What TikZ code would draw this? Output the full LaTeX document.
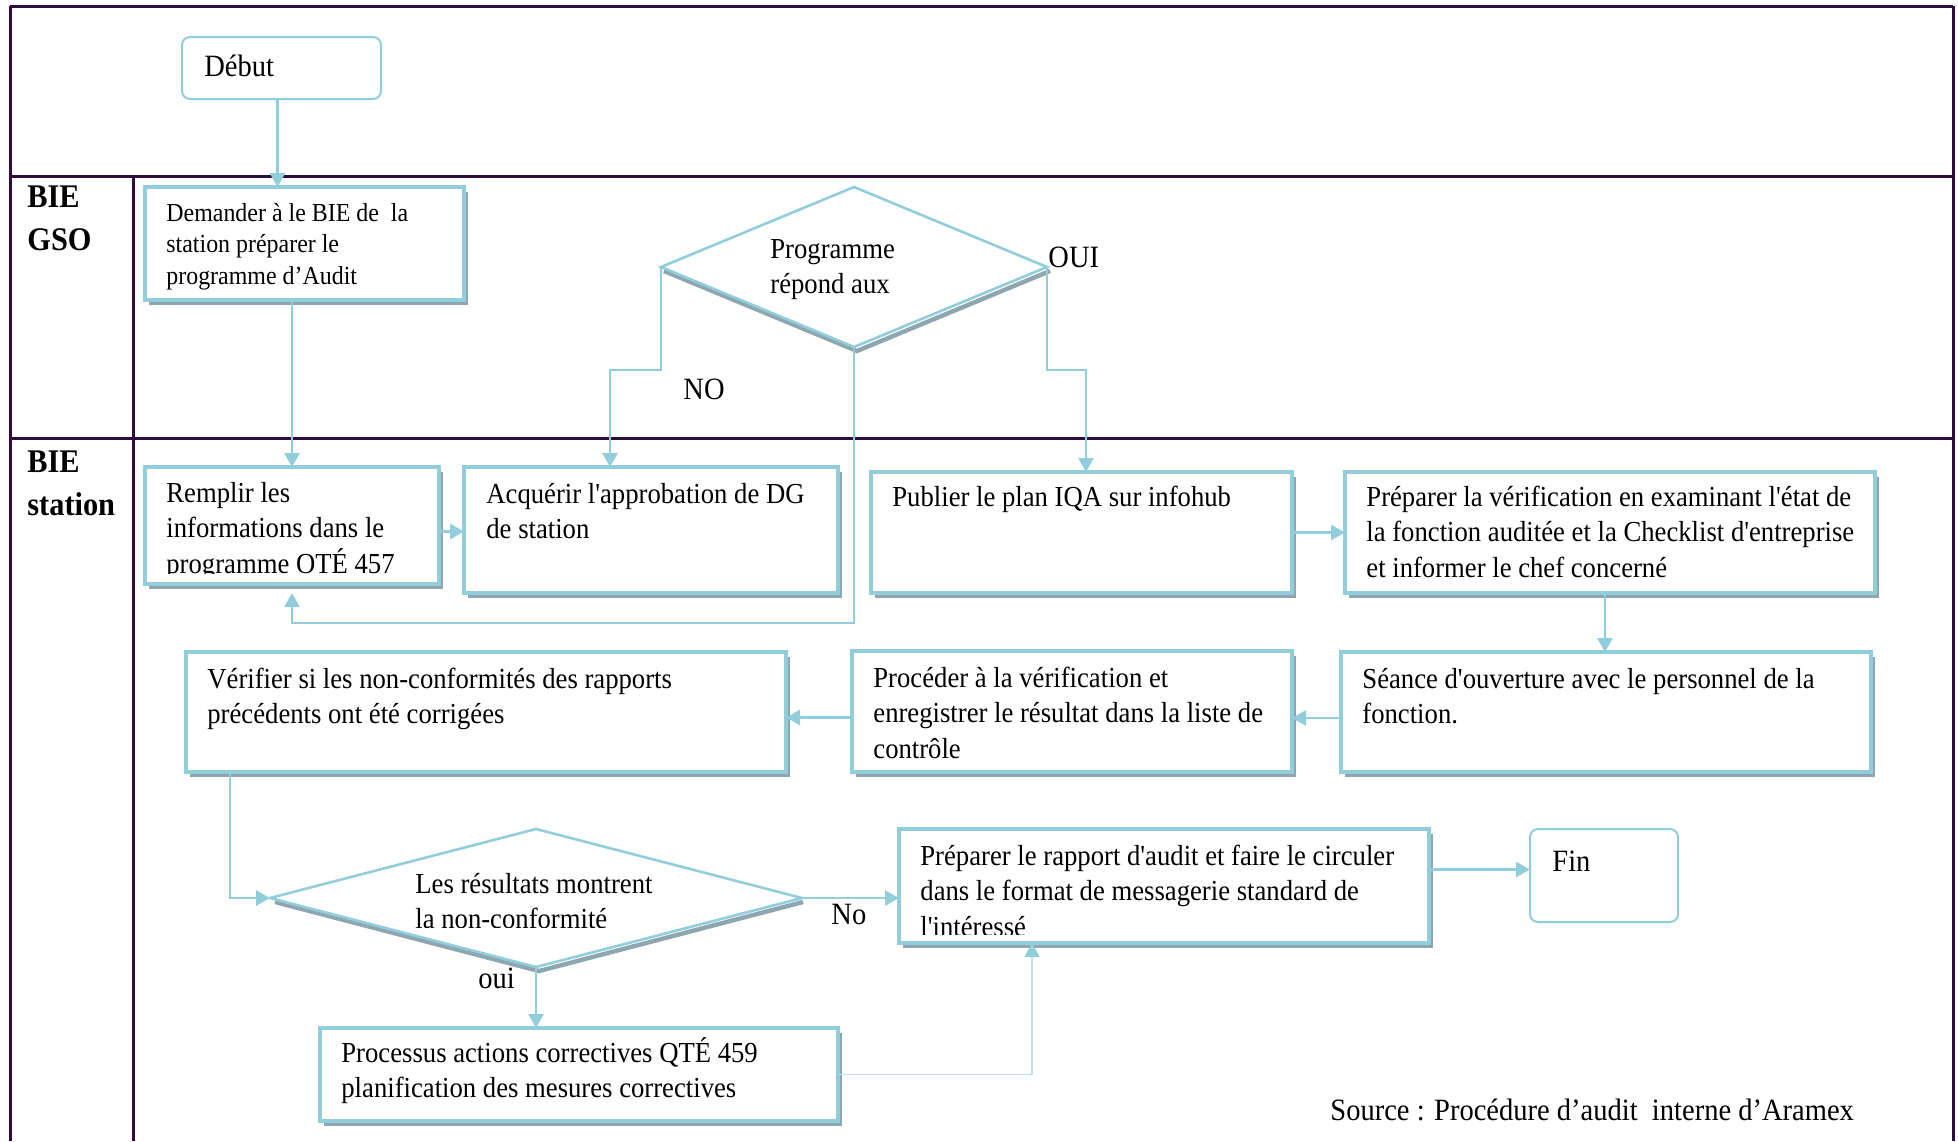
\documentclass[tikz,border=0pt]{standalone}
\usepackage{fontspec}
\setmainfont{Liberation Serif}[FakeStretch=0.92,Ligatures=TeXOff]
\usetikzlibrary{arrows.meta,shapes.geometric,shadows}
\definecolor{flowblue}{RGB}{146,205,220}
\definecolor{flowlight}{RGB}{190,225,235}
\definecolor{boxshade}{RGB}{142,166,176}
\definecolor{lanefr}{RGB}{48,10,60}
\newcommand\bodyfont{\fontsize{14.5}{17.75}\selectfont}
\newcommand\bigfont{\fontsize{15.5}{18}\selectfont}
\newcommand\smallfont{\fontsize{13}{15.75}\selectfont}
\newcommand\lanefont{\fontsize{16.5}{21.5}\selectfont\bfseries}
\begin{document}
\begin{tikzpicture}[x=0.5pt,y=-0.5pt,
  frame/.style={draw=lanefr,line width=1.5pt},
  box/.style={draw=flowblue,line width=1.6pt,fill=white,inner sep=0,outer sep=0,anchor=north west,
    drop shadow={shadow xshift=2pt,shadow yshift=-2.5pt,fill=boxshade,opacity=1}},
  term/.style={draw=flowblue,line width=1pt,rounded corners=4pt,fill=white,inner sep=0,outer sep=0,anchor=north west},
  decision/.style={diamond,draw=flowblue,line width=1.3pt,fill=white,inner sep=0,outer sep=0},
  dshade/.style={draw=boxshade,line width=2.2pt},
  conn/.style={draw=flowblue,line width=1.45pt,-{Triangle[width=7.5pt,length=7pt]}},
  connthin/.style={draw=flowlight,line width=0.8pt,-{Triangle[width=7.5pt,length=7pt,color=flowblue]}},
  % multi-line texts are placed by the baseline of their last line
  txt/.style={inner sep=0,anchor=base west,align=left,font=\bodyfont},
  lane/.style={inner sep=0,anchor=base west,align=left,font=\lanefont}
]
\useasboundingbox (0,0) rectangle (1958,1141);

% swimlane frame
\draw[frame] (10,6) -- (1953,6);
\draw[frame] (10,6) -- (10,1141);
\draw[frame] (1953,6) -- (1953,1141);
\draw[frame] (10,176) -- (1953,176);
\draw[frame] (10,438) -- (1953,438);
\draw[frame] (133,176) -- (133,1141);

\node[lane] (gso) at (27,250) {BIE\\GSO};
\node[lane] (stn) at (27,515) {BIE\\station};

% process boxes
\node[term, minimum width=99.5pt, minimum height=31pt] (debut) at (182,37) {};
\node[box, minimum width=159.5pt, minimum height=56.5pt] (demander) at (145,187) {};
\node[box, minimum width=147pt, minimum height=58.5pt] (remplir) at (145,467) {};
\node[box, minimum width=187pt, minimum height=63pt] (acquerir) at (464,467) {};
\node[box, minimum width=210.5pt, minimum height=60.5pt] (publier) at (871,472) {};
\node[box, minimum width=265pt, minimum height=60.5pt] (prepa) at (1345,472) {};
\node[box, minimum width=265pt, minimum height=60pt] (seance) at (1341,652) {};
\node[box, minimum width=220pt, minimum height=60.5pt] (proceder) at (852,651) {};
\node[box, minimum width=300pt, minimum height=60pt] (verifier) at (186,652) {};
\node[box, minimum width=265pt, minimum height=57pt] (rapport) at (899,829) {};
\node[term, minimum width=74pt, minimum height=46.5pt] (fin) at (1530,829) {};
\node[box, minimum width=259pt, minimum height=46.5pt] (processus) at (320,1028) {};

% decisions with their shadow under the lower edges
\draw[dshade] (664,271) -- (857,351) -- (1050,271);
\node[decision, minimum width=193pt, minimum height=80pt] (d1) at (854,267) {};
\draw[dshade] (275,902) -- (539,971) -- (803,902);
\node[decision, minimum width=266pt, minimum height=69pt] (d2) at (536,898) {};

% connectors
\coordinate (db) at ([xshift=-2pt]debut.south);
\draw[conn] (db) -- (db |- demander.north);
\draw[conn] (remplir.north |- demander.south) -- (remplir.north);
\coordinate (ra) at ([yshift=-3pt]remplir.east);
\draw[conn] (ra) -- (ra -| acquerir.west);
\coordinate (noj) at (610,370);
\draw[conn] (d1.west) |- (noj) -- (noj |- acquerir.north);
\coordinate (ouij) at (1086,370);
\draw[conn] (d1.east) |- (ouij) -- (ouij |- publier.north);
\coordinate (backj) at (292,623);
\coordinate (backend) at ([yshift=-4.5pt]remplir.south);
\draw[conn] (d1.south) |- (backj) -- (backend);
\draw[conn] (publier.east) -- (publier.east -| prepa.west);
\coordinate (pd) at ([xshift=-2.5pt]prepa.south);
\draw[conn] (pd) -- (pd |- seance.north);
\coordinate (sp) at ([yshift=-3pt]seance.west);
\draw[conn] (sp) -- (sp -| proceder.east);
\coordinate (pv) at ([yshift=-3pt]proceder.west);
\draw[conn] (pv) -- (pv -| verifier.east);
\draw[conn] ([xshift=22pt]verifier.south west) |- (d2.west);
\draw[conn] (d2.east) -- (d2.east -| rapport.west);
\draw[conn] (d2.south) -- (d2.south |- processus.north);
\coordinate (up) at ([xshift=66.5pt]rapport.south west);
\draw[connthin] (processus.east) -| (up);
\coordinate (finin) at ([yshift=3pt]fin.west);
\draw[conn] (finin -| rapport.east) -- (finin);

% texts
\node[txt, font=\bigfont] (tdebut) at (204,76) {Début};
\node[txt, font=\smallfont] (tdemander) at (166,284) {Demander à le BIE de\ \ la\\station préparer le\\programme d’Audit};
\begin{scope}
  \clip (145,467) rectangle (439,573);
  \node[txt] (tremplir) at (166,573) {Remplir les\\informations dans le\\programme OTÉ 457};
\end{scope}
\node[txt] (tacq) at (486,538.5) {Acquérir l'approbation de DG\\de station};
\node[txt] (tpub) at (892,506) {Publier le plan IQA sur infohub};
\node[txt] (tprepa) at (1366,577) {Préparer la vérification en examinant l'état de\\la fonction auditée et la Checklist d'entreprise\\et informer le chef concerné};
\node[txt] (tseance) at (1362,723.5) {Séance d'ouverture avec le personnel de la\\fonction.};
\node[txt] (tproc) at (873,758) {Procéder à la vérification et\\enregistrer le résultat dans la liste de\\contrôle};
\node[txt] (tverif) at (207,723.5) {Vérifier si les non-conformités des rapports\\précédents ont été corrigées};
\node[txt] (td1) at (770,293.5) {Programme\\répond aux};
\begin{scope}
  \clip (300,840) rectangle (780,927);
  \node[txt] (td2) at (415,928.5) {Les résultats montrent\\la non-conformité};
\end{scope}
\begin{scope}
  \clip (899,829) rectangle (1429,934);
  \node[txt] (trapport) at (920,936) {Préparer le rapport d'audit et faire le circuler\\dans le format de messagerie standard de\\l'intéressé};
\end{scope}
\node[txt, font=\bigfont] (tfin) at (1552,871) {Fin};
\node[txt] (tcorr) at (341,1097.5) {Processus actions correctives QTÉ 459\\planification des mesures correctives};

% branch labels and source
\node[txt, font=\bigfont] (lno) at (683,399) {NO};
\node[txt, font=\bigfont] (loui) at (1048,267) {OUI};
\node[txt, font=\bigfont] (lno2) at (831,924) {No};
\node[txt, font=\bigfont] (loui2) at (478,988) {oui};
\node[txt, font=\bigfont] (src) at (1330,1120) {Source : Procédure d’audit\ \ interne d’Aramex};
\end{tikzpicture}
\end{document}
